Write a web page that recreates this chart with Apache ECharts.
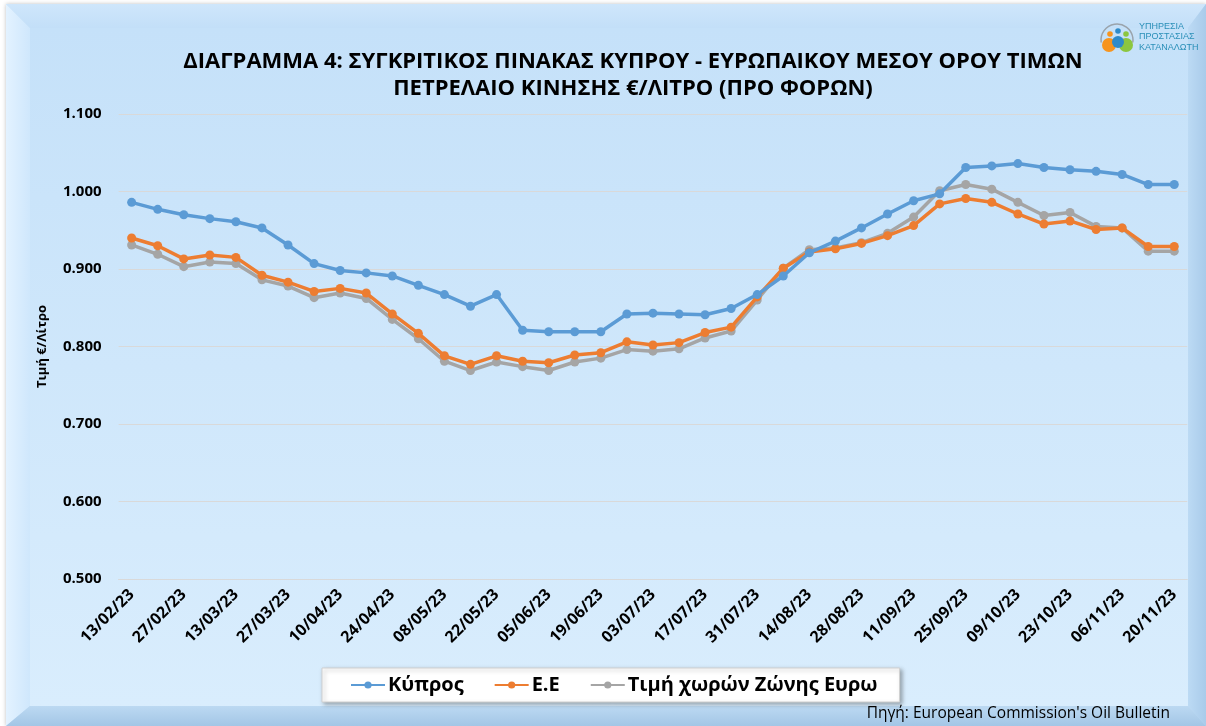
<!DOCTYPE html>
<html>
<head>
<meta charset="utf-8">
<script src="https://cdn.jsdelivr.net/npm/echarts@6/dist/echarts.min.js"></script>
<style>
  html, body { margin: 0; padding: 0; background: #fff; }
  #chart { width: 1206px; height: 726px; }
</style>
</head>
<body>
<div id="chart"></div>
<script>
const dates = [
  '13/02/23', '20/02/23', '27/02/23', '06/03/23', '13/03/23', '20/03/23', '27/03/23',
  '03/04/23', '10/04/23', '17/04/23', '24/04/23', '01/05/23', '08/05/23', '15/05/23',
  '22/05/23', '29/05/23', '05/06/23', '12/06/23', '19/06/23', '26/06/23', '03/07/23',
  '10/07/23', '17/07/23', '24/07/23', '31/07/23', '07/08/23', '14/08/23', '21/08/23',
  '28/08/23', '04/09/23', '11/09/23', '18/09/23', '25/09/23', '02/10/23', '09/10/23',
  '16/10/23', '23/10/23', '30/10/23', '06/11/23', '13/11/23', '20/11/23'
];

const cyprus = [
  0.986, 0.977, 0.970, 0.965, 0.961, 0.953, 0.931, 0.907, 0.898, 0.895, 0.891,
  0.879, 0.867, 0.852, 0.867, 0.821, 0.819, 0.819, 0.819, 0.842, 0.843, 0.842,
  0.841, 0.849, 0.867, 0.891, 0.921, 0.936, 0.953, 0.971, 0.988, 0.997, 1.031,
  1.033, 1.036, 1.031, 1.028, 1.026, 1.022, 1.009, 1.009
];

const eu = [
  0.940, 0.930, 0.913, 0.918, 0.915, 0.892, 0.883, 0.871, 0.875, 0.869, 0.842,
  0.817, 0.788, 0.777, 0.788, 0.781, 0.779, 0.789, 0.792, 0.806, 0.802, 0.805,
  0.818, 0.825, 0.864, 0.901, 0.922, 0.926, 0.933, 0.943, 0.956, 0.984, 0.991,
  0.986, 0.971, 0.958, 0.962, 0.951, 0.953, 0.929, 0.929
];

const euroZone = [
  0.931, 0.919, 0.903, 0.909, 0.907, 0.886, 0.878, 0.863, 0.869, 0.862, 0.835,
  0.810, 0.781, 0.769, 0.780, 0.774, 0.769, 0.780, 0.785, 0.796, 0.794, 0.797,
  0.811, 0.820, 0.860, 0.901, 0.925, 0.927, 0.934, 0.946, 0.967, 1.001, 1.009,
  1.003, 0.986, 0.969, 0.973, 0.955, 0.953, 0.923, 0.923
];

const seriesNames = ['Κύπρος', 'Ε.Ε', 'Τιμή χωρών Ζώνης Ευρω'];
const seriesColors = ['#5b9bd5', '#ed7d31', '#a5a5a5'];

const FONT = '"Open Sans", "Noto Sans", sans-serif';

const chart = echarts.init(document.getElementById('chart'));

// bevelled frame behind the chart
const W = 1206, H = 726;
const frame = [
  { type: 'rect', z: -10, shape: { x: 0, y: 0, width: W, height: H }, style: { fill: '#ffffff' } },
  { type: 'rect', z: -9, shape: { x: 6, y: 4, width: W - 6, height: H - 4 }, style: { fill: '#bcd9f3', shadowBlur: 4, shadowColor: 'rgba(0,0,0,0.25)' } },
  // top bevel
  { type: 'polygon', z: -8, shape: { points: [[6, 4], [W, 4], [W - 18, 28], [30, 28]] },
    style: { fill: { type: 'linear', x: 0, y: 0, x2: 0, y2: 1, colorStops: [{ offset: 0, color: '#cfe6fb' }, { offset: 1, color: '#c3dff8' }] } } },
  // left bevel
  { type: 'polygon', z: -8, shape: { points: [[6, 4], [30, 28], [30, H - 20], [6, H]] },
    style: { fill: { type: 'linear', x: 0, y: 0, x2: 1, y2: 0, colorStops: [{ offset: 0, color: '#e3f2ff' }, { offset: 1, color: '#cfe7fc' }] } } },
  // right bevel
  { type: 'polygon', z: -8, shape: { points: [[W, 4], [W, H], [W - 18, H - 20], [W - 18, 28]] },
    style: { fill: { type: 'linear', x: 0, y: 0, x2: 1, y2: 0, colorStops: [{ offset: 0, color: '#bcdaf4' }, { offset: 1, color: '#a9cbea' }] } } },
  // bottom bevel
  { type: 'polygon', z: -8, shape: { points: [[6, H], [30, H - 20], [W - 18, H - 20], [W, H]] },
    style: { fill: { type: 'linear', x: 0, y: 0, x2: 0, y2: 1, colorStops: [{ offset: 0, color: '#bcd9f2' }, { offset: 1, color: '#a3c6e6' }] } } },
  // face
  { type: 'rect', z: -7, shape: { x: 30, y: 28, width: W - 48, height: H - 48 },
    style: { fill: { type: 'linear', x: 0, y: 0, x2: 0, y2: 1, colorStops: [{ offset: 0, color: '#c5e1f9' }, { offset: 1, color: '#d9edfd' }] } } }
];

// consumer protection logo, top right
const logo = [
  { type: 'arc', shape: { cx: 1117, cy: 40, r: 16, startAngle: Math.PI * 0.95, endAngle: Math.PI * 2.05, clockwise: true },
    style: { stroke: '#9aa3ab', lineWidth: 1.5, fill: null } },
  { type: 'circle', shape: { cx: 1126, cy: 45, r: 7 }, style: { fill: '#8cc63f' } },
  { type: 'circle', shape: { cx: 1109, cy: 45, r: 7 }, style: { fill: '#f7941d' } },
  { type: 'circle', shape: { cx: 1118, cy: 42, r: 6 }, style: { fill: '#2e8bc9' } },
  { type: 'circle', shape: { cx: 1110, cy: 34, r: 2.8 }, style: { fill: '#f7941d' } },
  { type: 'circle', shape: { cx: 1118, cy: 31, r: 2.8 }, style: { fill: '#2e8bc9' } },
  { type: 'circle', shape: { cx: 1126, cy: 34, r: 2.8 }, style: { fill: '#8cc63f' } },
  { type: 'text', left: 1139, top: 21,
    style: { text: 'ΥΠΗΡΕΣΙΑ\nΠΡΟΣΤΑΣΙΑΣ\nΚΑΤΑΝΑΛΩΤΗ', fill: '#2a8fb8', font: '9px "Liberation Sans Narrow", "Liberation Sans", sans-serif', lineHeight: 10.5 } }
];

const option = {
  animation: false,
  backgroundColor: 'transparent',
  title: {
    text: 'ΔΙΑΓΡΑΜΜΑ 4: ΣΥΓΚΡΙΤΙΚΟΣ ΠΙΝΑΚΑΣ ΚΥΠΡΟΥ - ΕΥΡΩΠΑΙΚΟΥ ΜΕΣΟΥ ΟΡΟΥ ΤΙΜΩΝ\nΠΕΤΡΕΛΑΙΟ ΚΙΝΗΣΗΣ €/ΛΙΤΡΟ (ΠΡΟ ΦΟΡΩΝ)',
    left: 628,
    top: 43,
    textAlign: 'center',
    textStyle: { fontFamily: FONT, fontSize: 22, fontWeight: 'bold', color: '#000', lineHeight: 27 }
  },
  legend: {
    data: seriesNames,
    left: 322,
    top: 668,
    backgroundColor: '#ffffff',
    borderColor: '#d0d0d0',
    borderWidth: 1,
    shadowBlur: 4,
    shadowOffsetX: 2,
    shadowOffsetY: 2,
    shadowColor: 'rgba(0,0,0,0.3)',
    padding: [7, 22, 7, 28],
    itemGap: 30,
    itemWidth: 34,
    itemHeight: 9,
    textStyle: { fontFamily: FONT, fontSize: 20, fontWeight: 'bold', color: '#000', padding: [0, 0, 0, -2] }
  },
  grid: { left: 118.6, right: 18.7, top: 114, bottom: 147 },
  xAxis: {
    type: 'category',
    data: dates,
    boundaryGap: true,
    axisLine: { show: true, lineStyle: { color: '#d9d9d9', width: 1 } },
    axisTick: { show: false },
    axisLabel: {
      interval: 1,
      rotate: 45,
      margin: 13,
      color: '#000',
      fontFamily: FONT,
      fontSize: 16,
      fontWeight: 'bold'
    }
  },
  yAxis: {
    type: 'value',
    min: 0.5,
    max: 1.1,
    interval: 0.1,
    name: 'Τιμή €/Λίτρο',
    nameLocation: 'middle',
    nameRotate: 90,
    nameGap: 70,
    nameTextStyle: { fontFamily: FONT, fontSize: 13, fontWeight: 'bold', color: '#000' },
    axisLine: { show: false },
    axisTick: { show: false },
    splitLine: { lineStyle: { color: '#d9d9d9', width: 1 } },
    axisLabel: {
      margin: 17,
      color: '#000',
      fontFamily: FONT,
      fontSize: 15,
      fontWeight: 'bold',
      formatter: v => v.toFixed(3)
    }
  },
  series: [
    { name: seriesNames[0], data: cyprus },
    { name: seriesNames[1], data: eu },
    { name: seriesNames[2], data: euroZone }
  ].map((s, i) => ({
    name: s.name,
    type: 'line',
    data: s.data,
    z: 10 - i,
    symbol: 'circle',
    symbolSize: 9,
    color: seriesColors[i],
    lineStyle: { width: 3.5, color: seriesColors[i] },
    itemStyle: { color: seriesColors[i] }
  })),
  graphic: frame.concat(logo, [
    { type: 'text', right: 36, top: 706,
      style: { text: "Πηγή: European Commission's Oil Bulletin", fill: '#000', font: '15.5px ' + FONT } }
  ])
};

chart.setOption(option);
window.addEventListener('resize', () => chart.resize());
</script>
</body>
</html>
